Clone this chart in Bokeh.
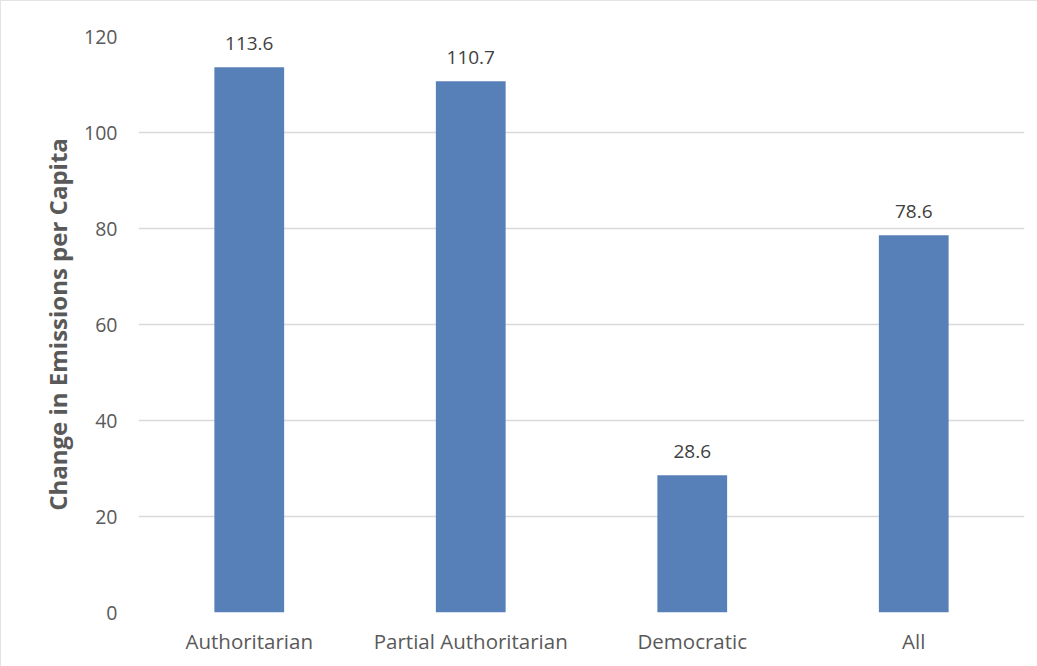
from bokeh.plotting import figure
from bokeh.models import ColumnDataSource, Range1d, FixedTicker, LabelSet
from bokeh.core.properties import value
from bokeh.embed import file_html
from bokeh.resources import INLINE

categories = ["Authoritarian", "Partial Authoritarian", "Democratic", "All"]
values = [113.6, 110.7, 28.6, 78.6]
labels = ["113.6", "110.7", "28.6", "78.6"]
y_ticks = [0, 20, 40, 60, 80, 100, 120]

FONT = "Open Sans"
src = ColumnDataSource(dict(cat=categories, val=values, lab=labels))

p = figure(x_range=categories, y_range=Range1d(0, 120), width=1037, height=666,
           output_backend="svg", toolbar_location=None,
           min_border_left=137, min_border_right=14, min_border_top=35, min_border_bottom=55)
p.vbar(x="cat", top="val", width=0.315, source=src, fill_color="#5880b8", line_color=None)

lbl = LabelSet(x="cat", y="val", text="lab", source=src, text_align="center",
               text_baseline="bottom", y_offset=17, text_font=value(FONT),
               text_font_size="19px", text_color="#404040")
p.add_layout(lbl)

p.outline_line_color = None
p.xgrid.grid_line_color = None
p.ygrid.grid_line_color = "#d9d9d9"
p.ygrid.grid_line_width = 1.3
p.yaxis.ticker = FixedTicker(ticks=y_ticks)
for ax in (p.xaxis, p.yaxis):
    ax.axis_line_color = None
    ax.major_tick_line_color = None
    ax.minor_tick_line_color = None
    ax.major_label_text_font = FONT
    ax.major_label_text_color = "#595959"
p.yaxis.major_label_text_font_size = "19.5px"
p.xaxis.major_label_text_font_size = "20.5px"
p.yaxis.major_label_standoff = 15
p.xaxis.major_label_standoff = 8
p.yaxis.axis_label = "Change in Emissions per Capita"
p.yaxis.axis_label_text_font = FONT
p.yaxis.axis_label_text_font_size = "24px"
p.yaxis.axis_label_text_font_style = "bold"
p.yaxis.axis_label_text_color = "#595959"
p.yaxis.axis_label_standoff = 7
p.styles = {"border-top": "1.5px solid #e3e3e3", "border-left": "1.5px solid #e3e3e3"}

open("out.html", "w").write(file_html(p, INLINE))
